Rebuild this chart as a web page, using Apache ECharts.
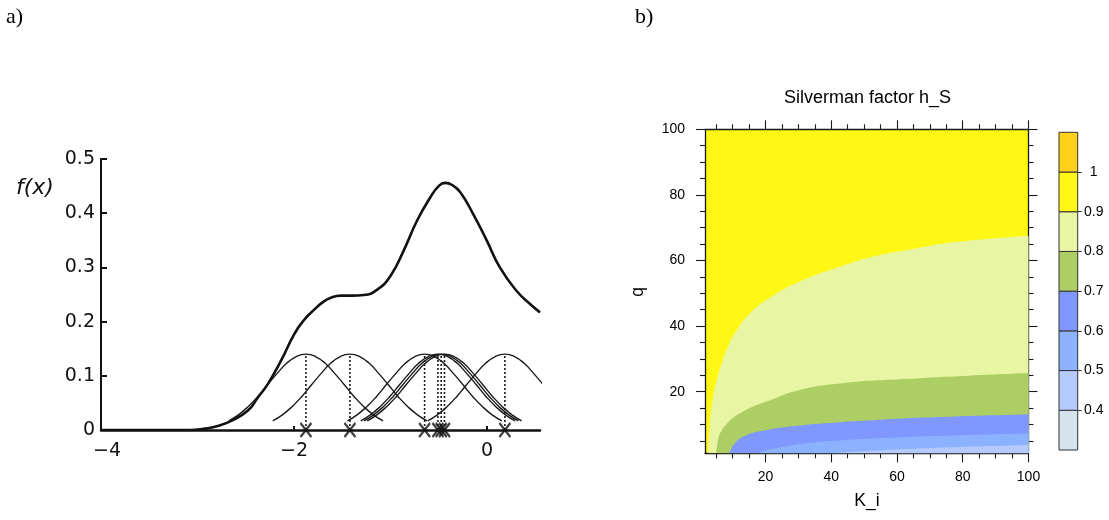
<!DOCTYPE html>
<html><head><meta charset="utf-8">
<script src="https://cdn.jsdelivr.net/npm/echarts@6/dist/echarts.min.js"></script>
<style>html,body{margin:0;padding:0;background:#fff}#c{width:1109px;height:520px}</style>
</head><body><div id="c"></div>
<script>
// ---------- panel a data ----------
const densityX = [-4.0,-3.5,-3.1,-3.0,-2.9,-2.8,-2.65,-2.477,-2.374,-2.27,-2.134,-1.997,-1.9,-1.79,-1.7,-1.619,-1.515,-1.4,-1.275,-1.137,-1.0,-0.863,-0.725,-0.588,-0.5,-0.433,-0.36,-0.278,-0.141,0.0,0.134,0.306,0.45,0.55];
const densityY = [0,0,0,0.001,0.003,0.007,0.017,0.036,0.060,0.085,0.128,0.177,0.202,0.222,0.236,0.244,0.248,0.248,0.249,0.259,0.284,0.331,0.386,0.429,0.450,0.456,0.452,0.439,0.398,0.349,0.30,0.257,0.232,0.217];
const dataPoints = [-1.876,-1.42,-0.646,-0.508,-0.474,-0.44,0.186];
const kernelOffsets = [-0.8,-0.7,-0.6,-0.5,-0.4,-0.3,-0.2,-0.1,0,0.1,0.2,0.3,0.4,0.5,0.6,0.7,0.8];
const kernelHeights = [0.017,0.028,0.043,0.0615,0.083,0.104,0.123,0.1355,0.140,0.1355,0.123,0.104,0.083,0.0615,0.043,0.028,0.017];
const kernelPeak = 0.140;
const aTickX = [-2,0];
const aLabelX = [-4,-2,0];

// ---------- panel b data ----------
const boundary09 = [[2.6,1.2],[2.8,6.3],[3.35,13.4],[4.1,18.5],[5.2,23.6],[6.7,28.7],[8.6,33.8],[11.3,38.8],[15.3,43.9],[21.9,49.0],[31.6,54.1],[42.7,58.1],[52.9,61.2],[63.1,63.2],[78.3,65.7],[100,67.5]];
const boundary08 = [[4.96,1.2],[5.3,3.5],[5.8,6.3],[6.8,8.3],[8.2,10.1],[10,11.9],[12.3,13.4],[16,15.4],[20.4,17.0],[29.5,20.3],[42.7,22.5],[63.1,23.9],[80,24.8],[100,25.7]];
const boundary07 = [[9.0,1.2],[9.6,2.6],[10.4,3.9],[13.3,6.3],[20.4,8.3],[30.5,9.7],[42.7,10.7],[50.9,11.2],[63.1,11.9],[71.2,12.2],[100,13.1]];
const boundary06 = [[17.8,1.2],[20,2.1],[25.5,3.2],[32,4.2],[40.7,5.0],[61,6.1],[80,6.7],[100,7.2]];
const boundary05 = [[40,1.2],[50,1.8],[61,2.4],[81.3,3.2],[100,3.75]];
const bMajorTicks = [20,40,60,80,100];
const bMinorTicks = [5,10,15,25,30,35,45,50,55,65,70,75,85,90,95];
const barLevels = [3,4,5,6,7,8,9,10,11];           // colour-key levels x10
const barTickValues = [4,5,6,7,8,9,10];
const barTickLabels = ['0.4','0.5','0.6','0.7','0.8','0.9','1'];

// ---------- styles ----------
const fillColors = ['#E8F5A2','#ACCE64','#7F97FF','#8CB2FF','#B5CAFF'];
const barColors = ['#D5E3EE','#B5CAFF','#8CB2FF','#7F97FF','#ACCE64','#E8F5A2','#FFF714','#FFD11A'];
const FA = 'DejaVu Sans', FB = 'Liberation Sans';
const ink = '#111';

const series = [];
dataPoints.forEach(p => {
  series.push({type:'line', xAxisIndex:0, yAxisIndex:0, silent:true, z:2,
    data: kernelOffsets.map((o,i)=>[p+o, kernelHeights[i]]),
    smooth:0.5, symbol:'none', lineStyle:{color:'#1a1a1a', width:1.4}});
  series.push({type:'line', xAxisIndex:0, yAxisIndex:0, silent:true, z:2,
    data:[[p,0],[p,kernelPeak]], symbol:'none',
    lineStyle:{color:'#1a1a1a', width:1.6, type:[2,2]}});
});
series.push({type:'line', xAxisIndex:0, yAxisIndex:0, silent:true, z:3,
  data: densityX.map((x,i)=>[x,densityY[i]]), smooth:0.5, symbol:'none',
  lineStyle:{color:ink, width:2.6}});
series.push({type:'scatter', xAxisIndex:0, yAxisIndex:0, silent:true, z:4,
  data: dataPoints.map(p=>[p,0]), symbol:'path://M0,0L10,14M10,0L0,14', symbolSize:[11,14],
  itemStyle:{color:'rgba(0,0,0,0)', borderColor:ink, borderWidth:2.2}});

[boundary09, boundary08, boundary07, boundary06, boundary05].forEach((b,i)=>{
  series.push({type:'line', xAxisIndex:1, yAxisIndex:1, silent:true, z:1,
    data:b, smooth:0.5, symbol:'none',
    lineStyle:{width:0, opacity:0}, areaStyle:{color:fillColors[i], opacity:1, origin:'start'}});
});

series.push({type:'custom', xAxisIndex:5, yAxisIndex:5, silent:true,
  data: barLevels.slice(0,-1).map((lo,i)=>[lo, barLevels[i+1], i]),
  renderItem:(params, api)=>{
    const lo=api.value(0), hi=api.value(1), idx=api.value(2);
    const p0=api.coord([0,hi]), p1=api.coord([1,lo]);
    return {type:'rect', shape:{x:p0[0], y:p0[1], width:p1[0]-p0[0], height:p1[1]-p0[1]},
      style:{fill:barColors[idx], stroke:'#333', lineWidth:1}};
  }});

const bLine = {show:true, onZero:false, lineStyle:{color:'#1a1a1a', width:1.3}};
function bAxis(extra){
  return Object.assign({type:'value', gridIndex:1, splitLine:{show:false}}, extra);
}
const bX = {min:1.6, max:100};
const bY = {min:1.2, max:100};
const tickStyle = {color:'#1a1a1a', width:1.1};

const option = {
  animation:false,
  grid:[
    {left:101, top:159, width:439, height:271, outerBoundsMode:'none'},
    {left:705, top:129.3, width:323.5, height:324, show:true, backgroundColor:'#FFF714', borderWidth:0, outerBoundsMode:'none'},
    {left:1059, top:132.3, width:18.7, height:317.7, outerBoundsMode:'none'}
  ],
  xAxis:[
    {type:'value', gridIndex:0, min:-4, max:0.55, splitLine:{show:false},
      axisLine:{show:true, onZero:false, lineStyle:{color:ink, width:2.5}},
      axisTick:{show:true, inside:true, length:4, customValues:aTickX, lineStyle:{color:ink, width:2}},
      axisLabel:{customValues:aLabelX, margin:12, color:ink, fontFamily:FA, fontSize:19,
        formatter:v=> v===-4 ? '{p|\u22124}' : (v<0 ? '\u2212'+(-v) : String(v)),
        rich:{p:{padding:[0,0,0,12], fontFamily:FA, fontSize:19, color:ink}}}},
    bAxis(Object.assign({position:'bottom', axisLine:bLine,
      axisTick:{show:true, length:9, customValues:bMajorTicks, lineStyle:tickStyle},
      axisLabel:{customValues:bMajorTicks, margin:17, color:'#000', fontFamily:FB, fontSize:14}}, bX)),
    bAxis(Object.assign({position:'bottom', axisLine:{show:false, onZero:false},
      axisTick:{show:true, length:5, customValues:bMinorTicks, lineStyle:tickStyle},
      axisLabel:{show:false}}, bX)),
    bAxis(Object.assign({position:'top', axisLine:bLine,
      axisTick:{show:true, length:9, customValues:bMajorTicks, lineStyle:tickStyle},
      axisLabel:{show:false}}, bX)),
    bAxis(Object.assign({position:'top', axisLine:{show:false, onZero:false},
      axisTick:{show:true, length:5, customValues:bMinorTicks, lineStyle:tickStyle},
      axisLabel:{show:false}}, bX)),
    {type:'value', gridIndex:2, min:0, max:1, show:false}
  ],
  yAxis:[
    {type:'value', gridIndex:0, min:0, max:0.5, interval:0.1, splitLine:{show:false},
      axisLine:{show:true, onZero:false, lineStyle:{color:ink, width:2}},
      axisTick:{show:true, inside:true, length:6, lineStyle:{color:ink, width:2}},
      axisLabel:{margin:6, color:ink, fontFamily:FA, fontSize:19, formatter:v=>String(+v.toFixed(1))}},
    bAxis(Object.assign({position:'left', axisLine:bLine,
      axisTick:{show:true, length:9, customValues:bMajorTicks, lineStyle:tickStyle},
      axisLabel:{customValues:bMajorTicks, margin:20, color:'#000', fontFamily:FB, fontSize:14}}, bY)),
    bAxis(Object.assign({position:'left', axisLine:{show:false, onZero:false},
      axisTick:{show:true, length:5, customValues:bMinorTicks, lineStyle:tickStyle},
      axisLabel:{show:false}}, bY)),
    bAxis(Object.assign({position:'right', axisLine:bLine,
      axisTick:{show:true, length:9, customValues:bMajorTicks, lineStyle:tickStyle},
      axisLabel:{show:false}}, bY)),
    bAxis(Object.assign({position:'right', axisLine:{show:false, onZero:false},
      axisTick:{show:true, length:5, customValues:bMinorTicks, lineStyle:tickStyle},
      axisLabel:{show:false}}, bY)),
    {type:'value', gridIndex:2, min:3, max:11, position:'right', splitLine:{show:false},
      axisLine:{show:false, onZero:false},
      axisTick:{show:true, length:4, customValues:barTickValues, lineStyle:{color:'#333', width:1}},
      axisLabel:{customValues:barTickValues, margin:16, align:'center', color:'#000', fontFamily:FB, fontSize:14,
        formatter:v=>barTickLabels[barTickValues.indexOf(v)]}}
  ],
  graphic:[
    {type:'text', x:6, y:17, style:{text:'a)', font:'22px "Liberation Serif"', fill:'#000', verticalAlign:'middle', textVerticalAlign:'middle'}},
    {type:'text', x:635, y:17, style:{text:'b)', font:'22px "Liberation Serif"', fill:'#000', verticalAlign:'middle', textVerticalAlign:'middle'}},
    {type:'text', x:16, y:188, style:{text:'f(x)', font:'italic 22px "DejaVu Sans"', fill:ink, verticalAlign:'middle', textVerticalAlign:'middle'}},
    {type:'text', x:867.5, y:98.5, style:{text:'Silverman factor h_S', font:'18px "Liberation Sans"', fill:'#000', align:'center', textAlign:'center', verticalAlign:'middle', textVerticalAlign:'middle'}},
    {type:'text', x:867, y:501.6, style:{text:'K_i', font:'17.5px "Liberation Sans"', fill:'#000', align:'center', textAlign:'center', verticalAlign:'middle', textVerticalAlign:'middle'}},
    {type:'text', x:638, y:292, rotation:Math.PI/2, style:{text:'q', font:'17.5px "Liberation Sans"', fill:'#000', align:'center', textAlign:'center', verticalAlign:'middle', textVerticalAlign:'middle'}}
  ],
  series
};
const chart = echarts.init(document.getElementById('c'));
chart.setOption(option);
</script></body></html>
